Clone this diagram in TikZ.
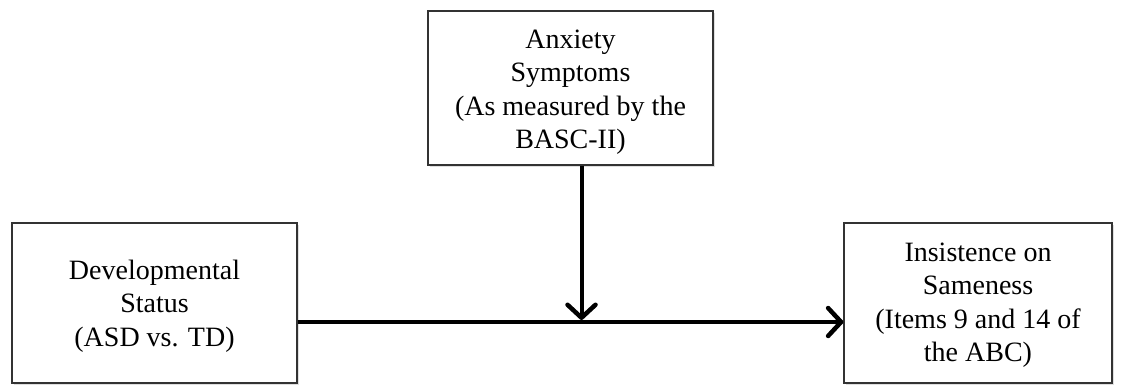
\documentclass[tikz,border=0pt]{standalone}
\usepackage{fontspec}
\setmainfont{Liberation Serif}
\usetikzlibrary{arrows.meta,shadows}
\begin{document}
\begin{tikzpicture}[x=1pt,y=1pt,
  box/.style={draw=black!80, line width=1.3pt, fill=white, rectangle, inner sep=0pt,
    drop shadow={opacity=0.25, shadow xshift=2pt, shadow yshift=-2pt}},
  txt/.style={align=center, font=\fontsize{28}{33.5}\selectfont, inner sep=0pt},
  arr/.style={line width=4pt, -{Straight Barb[length=13pt,width=28pt,line width=4.5pt,round]}}]
\useasboundingbox (0,0) rectangle (1122,-385);
\node[box, minimum width=285pt, minimum height=154pt] (anx) at (570.5,-88) {};
\node[box, minimum width=285pt, minimum height=160pt] (dev) at (154.5,-303) {};
\node[box, minimum width=268pt, minimum height=160pt] (ins) at (978,-303) {};
\node[txt] (anxt) at ([yshift=-4pt]anx.center) {Anxiety\\Symptoms\\(As measured by the\\BASC-II)};
\node[txt] (devt) at ([yshift=-3pt]dev.center) {Developmental\\Status\\(ASD vs. TD)};
\node[txt] (inst) at ([yshift=-2pt]ins.center) {Insistence on\\Sameness\\(Items 9 and 14 of\\the ABC)};
\coordinate (hy) at (0,-322);
\coordinate (vy) at (0,-320);
\draw[arr] (dev.east |- hy) -- (ins.west |- hy);
\draw[arr] ([xshift=11pt]anx.south) -- ([xshift=11pt]anx.south |- vy);
\end{tikzpicture}
\end{document}
